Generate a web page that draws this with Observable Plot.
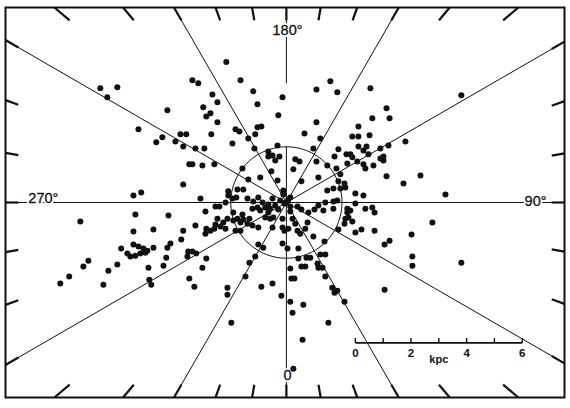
<!DOCTYPE html>
<html><head><meta charset="utf-8">
<script src="https://cdn.jsdelivr.net/npm/d3@7"></script>
<script src="https://cdn.jsdelivr.net/npm/@observablehq/plot@0.6"></script>
<style>body{margin:0;background:#fff}</style>
</head><body><div id="chart"></div>
<script>
// Heliocentric positions (kpc): x toward l=90°, y toward l=180°
const xKpc = [
-6.69,-6.08,-6.44,-4.28,-5.32,-4.68,-4.46,-3.81,-3.60,-3.99,
-3.71,-3.49,-3.71,-5.22,-5.50,-5.43,-4.24,-2.16,-3.38,-3.17,
-1.65,-1.19,-0.14,1.08,-2.66,-2.48,-2.99,-2.73,-2.88,-1.04,
-0.29,-2.48,-1.83,-1.69,-1.04,-0.90,-1.12,-2.70,1.08,0.65,
1.22,-1.94,-1.37,-3.27,-2.95,-1.15,-0.32,-0.65,-0.65,-0.50,
-0.25,-0.40,0.97,0.32,0.47,1.08,1.47,-3.38,-3.02,-2.59,
-1.58,-0.54,0.25,-1.37,-0.94,-0.32,0.54,1.15,1.47,-2.09,
-1.76,-1.55,-2.09,-1.94,-1.80,-1.40,-1.19,-1.01,-0.11,-0.11,
0.14,-3.09,-2.19,0.00,-2.55,-2.41,-2.91,-1.91,-1.22,-1.04,
-0.94,-0.76,-0.58,-0.65,-0.29,0.40,0.54,0.79,1.01,1.15,
1.40,1.33,0.14,-1.58,1.58,
1.83,3.02,6.29,3.60,3.71,3.09,2.59,2.37,2.59,2.99,
4.28,2.59,2.88,2.77,3.38,3.67,1.87,1.73,2.16,2.30,
2.37,2.95,2.55,3.38,3.49,3.49,2.19,2.77,2.84,3.13,
1.80,1.94,3.60,4.82,4.21,5.72,1.87,2.09,1.69,1.94,
2.12,2.48,2.77,1.69,1.83,2.48,2.19,2.30,2.84,3.09,
3.17,1.69,2.19,
-7.41,-5.50,-4.78,-3.71,-4.17,-4.28,-3.78,-3.53,-3.56,-5.94,
-5.50,-5.32,-5.14,-5.00,-4.78,-5.72,-5.61,-5.43,-5.25,-5.07,
-4.32,-4.42,-4.96,-7.12,-7.30,-6.08,-6.40,-7.81,-8.13,-6.58,
-4.93,-4.86,-3.49,-3.24,-2.88,-3.02,-3.31,
-3.27,-2.88,-2.91,-2.73,-2.55,-2.48,-2.59,-2.37,-2.27,-2.19,
-2.12,-1.91,-1.76,-1.65,-1.55,-1.40,-1.33,-1.83,-1.65,-1.22,
-1.01,-0.76,-0.58,-0.47,-0.50,-0.14,-0.14,-0.07,0.07,0.22,
0.32,0.40,0.50,0.68,0.76,0.97,1.37,-0.14,0.04,0.43,
-1.01,-0.83,-1.12,-1.33,-1.47,0.14,0.18,0.29,0.43,0.54,
0.68,0.72,0.86,1.12,1.15,1.22,1.40,1.30,1.40,-2.12,
-2.12,-0.90,-0.50,-0.18,0.14,0.22,0.61,-1.98,0.58,1.51,
0.25,-3.38,
2.12,2.23,2.37,2.09,1.87,2.48,2.70,3.17,5.25,4.50,
3.53,3.71,4.53,4.53,6.29,3.53,1.65,1.73,1.83,2.09,
-0.86,-0.65,-0.40,-0.22,-0.50,0.14,0.07,-0.07
];
const yKpc = [
4.10,4.14,3.78,3.31,2.63,2.16,2.34,2.45,2.45,2.19,
2.01,1.37,0.65,0.36,0.25,-0.43,-0.47,5.04,4.39,4.28,
4.39,3.99,3.78,4.06,3.88,3.60,3.42,3.20,3.09,3.53,
3.13,2.88,2.63,2.55,2.70,2.73,2.45,2.45,2.88,2.48,
2.30,2.12,2.30,1.94,1.94,1.94,2.05,1.83,1.65,1.69,
1.65,1.51,1.94,1.55,1.47,1.47,1.33,1.37,1.33,1.37,
1.22,1.12,1.19,0.83,0.90,0.79,0.76,0.90,0.43,0.40,
0.47,0.47,0.25,0.14,0.18,0.14,0.04,0.18,0.43,0.29,
0.18,0.14,0.00,0.00,-0.14,-0.14,-0.32,-0.36,-0.22,-0.18,
-0.29,-0.18,-0.22,-0.36,-0.25,-0.14,-0.25,-0.36,-0.25,-0.11,
0.00,-0.29,-0.32,-0.43,4.35,
3.96,4.10,3.85,3.38,3.02,3.02,2.73,2.37,2.37,2.41,
2.19,2.01,2.01,1.87,1.94,2.05,1.91,1.65,1.73,1.73,
1.62,1.73,1.47,1.58,1.65,1.51,1.40,1.37,1.22,1.33,
1.22,1.01,0.94,0.97,0.68,0.29,0.76,0.68,0.50,0.50,
0.54,0.32,0.25,0.04,0.07,-0.04,-0.22,-0.29,-0.22,-0.18,
-0.36,-0.22,-0.36,
-0.68,-1.04,-0.97,-1.01,-1.47,-1.62,-1.33,-1.76,-1.94,-1.65,
-1.51,-1.58,-1.65,-1.73,-1.62,-1.83,-1.94,-1.91,-1.83,-1.80,
-1.98,-2.27,-2.34,-2.09,-2.30,-2.23,-2.45,-2.66,-2.91,-2.95,
-2.77,-2.95,-2.73,-1.83,-2.01,-2.34,-3.02,
-0.83,-0.94,-1.12,-1.01,-0.79,-0.58,-0.94,-0.86,-0.72,-0.94,
-0.58,-0.65,-0.58,-0.72,-0.61,-0.76,-0.58,-1.01,-1.01,-0.83,
-0.90,-0.54,-0.58,-0.54,-0.90,-0.58,-0.90,-1.01,-0.94,-0.58,
-0.76,-1.01,-1.12,-0.94,-0.72,-1.22,-1.40,-1.47,-1.65,-1.65,
-1.51,-1.62,-1.94,-2.16,-2.66,-2.37,-2.73,-2.73,-2.01,-2.30,
-2.30,-1.98,-1.98,-2.19,-2.34,-1.87,-1.87,-2.34,-2.66,-3.06,
-3.31,-3.02,-2.91,-3.35,-3.56,-3.96,-3.67,-4.32,-4.93,-4.32,
-5.97,-1.76,
-0.58,-0.54,-0.68,-0.76,-0.97,-1.08,-0.97,-1.01,-0.72,-1.15,
-1.51,-1.37,-1.94,-2.27,-2.16,-3.13,-3.06,-3.24,-3.17,-3.56,
0.00,-0.07,-0.11,0.07,0.14,-0.14,0.11,-0.04
];
const lineLongitudes = [0,30,60,90,120,150,180,210,240,270,300,330];
const tickLongitudes = [0,10,20,30,40,50,60,70,80,90,100,110,120,130,140,150,160,170,
  180,190,200,210,220,230,240,250,260,270,280,290,300,310,320,330,340,350];
const axisLongitudes = [180,270,90,0];
const axisLabels = ["180°","270°","90°","0"];
const circleRadiusKpc = 2;
const scaleTicks = [0,1,2,3,4,5,6];
const scaleLabels = [0,2,4,6];
const scaleUnit = "kpc";

if (xKpc.length !== yKpc.length) console.error("length mismatch", xKpc.length, yKpc.length);
const points = xKpc.map((x,i)=>({x, y:yKpc[i]}));

// plot extent in kpc
const X0=-10.1, X1=10.0, Y0=-7, Y1=7;
const dir = l => { const t=(l-90)*Math.PI/180; return [Math.cos(t), Math.sin(t)]; };
function hitR(l, inset=0){
  const [c,s]=dir(l); let t=Infinity;
  if (c>1e-9) t=Math.min(t,(X1-inset)/c);
  if (c<-1e-9) t=Math.min(t,(X0+inset)/c);
  if (s>1e-9) t=Math.min(t,(Y1-inset)/s);
  if (s<-1e-9) t=Math.min(t,(Y0+inset)/s);
  return t;
}
const at = (l,r)=>{ const [c,s]=dir(l); return [c*r, s*r]; };

const rays = [];
for (const l of lineLongitudes){
  const R = hitR(l);
  if (l===180){ rays.push({l, r0:0, r1:2.0}); rays.push({l, r0:4.28, r1:R}); }
  else rays.push({l, r0:0, r1:R});
}
const rayData = rays.map(d=>{const [x1,y1]=at(d.l,d.r0); const [x2,y2]=at(d.l,d.r1); return {x1,y1,x2,y2};});

const inset = 0.46;
const tickData = tickLongitudes.map(l=>{const [x1,y1]=at(l,hitR(l,inset)); const [x2,y2]=at(l,hitR(l,0)); return {x1,y1,x2,y2};});

const circle = d3.range(0,361,3).map(a=>({x:circleRadiusKpc*Math.cos(a*Math.PI/180), y:circleRadiusKpc*Math.sin(a*Math.PI/180)}));

const labelPos = {180:[0.04,6.19], 270:[-8.74,0.16], 90:[8.96,0.04], 0:[0.04,-6.19]};
const labelData = axisLongitudes.map((l,i)=>({x:labelPos[l][0], y:labelPos[l][1], text:axisLabels[i]}));

const bx0 = 2.48, by = -5.04;
const barTicks = scaleTicks.map(k=>({x:bx0+k}));
const barLabels = scaleLabels.map(k=>({x:bx0+k, text:String(k)}));

const font = "Liberation Sans, Arial, Helvetica, sans-serif";
const chart = Plot.plot({
  width:570, height:408,
  marginLeft:5, marginRight:6, marginTop:7, marginBottom:11,
  x:{domain:[X0,X1], axis:null},
  y:{domain:[Y0,Y1], axis:null},
  style:{background:"white"},
  marks:[
    Plot.link(rayData,{x1:"x1",y1:"y1",x2:"x2",y2:"y2",stroke:"#111",strokeWidth:1}),
    Plot.line(circle,{x:"x",y:"y",stroke:"#111",strokeWidth:1}),
    Plot.link(tickData,{x1:"x1",y1:"y1",x2:"x2",y2:"y2",stroke:"#111",strokeWidth:2.2}),
    Plot.frame({stroke:"#111",strokeWidth:2}),
    // scale bar
    Plot.link([{}],{x1:()=>bx0,x2:()=>bx0+6,y1:()=>by,y2:()=>by,stroke:"#111",strokeWidth:1.6}),
    Plot.link(barTicks,{x1:"x",x2:"x",y1:()=>by,y2:()=>by+0.18,stroke:"#111",strokeWidth:1.4}),
    Plot.text(barLabels,{x:"x",y:()=>by-0.36,text:"text",fontSize:11.5,fontWeight:"bold",fontFamily:font,fill:"#111"}),
    Plot.text([scaleUnit],{x:()=>bx0+3,y:()=>by-0.6,text:d=>d,fontSize:11,fontWeight:"bold",fontFamily:font,fill:"#111"}),
    // axis labels with white knock-out
    Plot.text(labelData,{x:"x",y:"y",text:"text",fontSize:14.5,fontFamily:font,fill:"white",stroke:"white",strokeWidth:4}),
    Plot.text(labelData,{x:"x",y:"y",text:"text",fontSize:14.5,fontFamily:font,fill:"#111",stroke:"#111",strokeWidth:0.3}),
    Plot.dot(points,{x:"x",y:"y",r:3,fill:"#111",stroke:"none"})
  ]
});
document.getElementById("chart").appendChild(chart);
</script></body></html>
